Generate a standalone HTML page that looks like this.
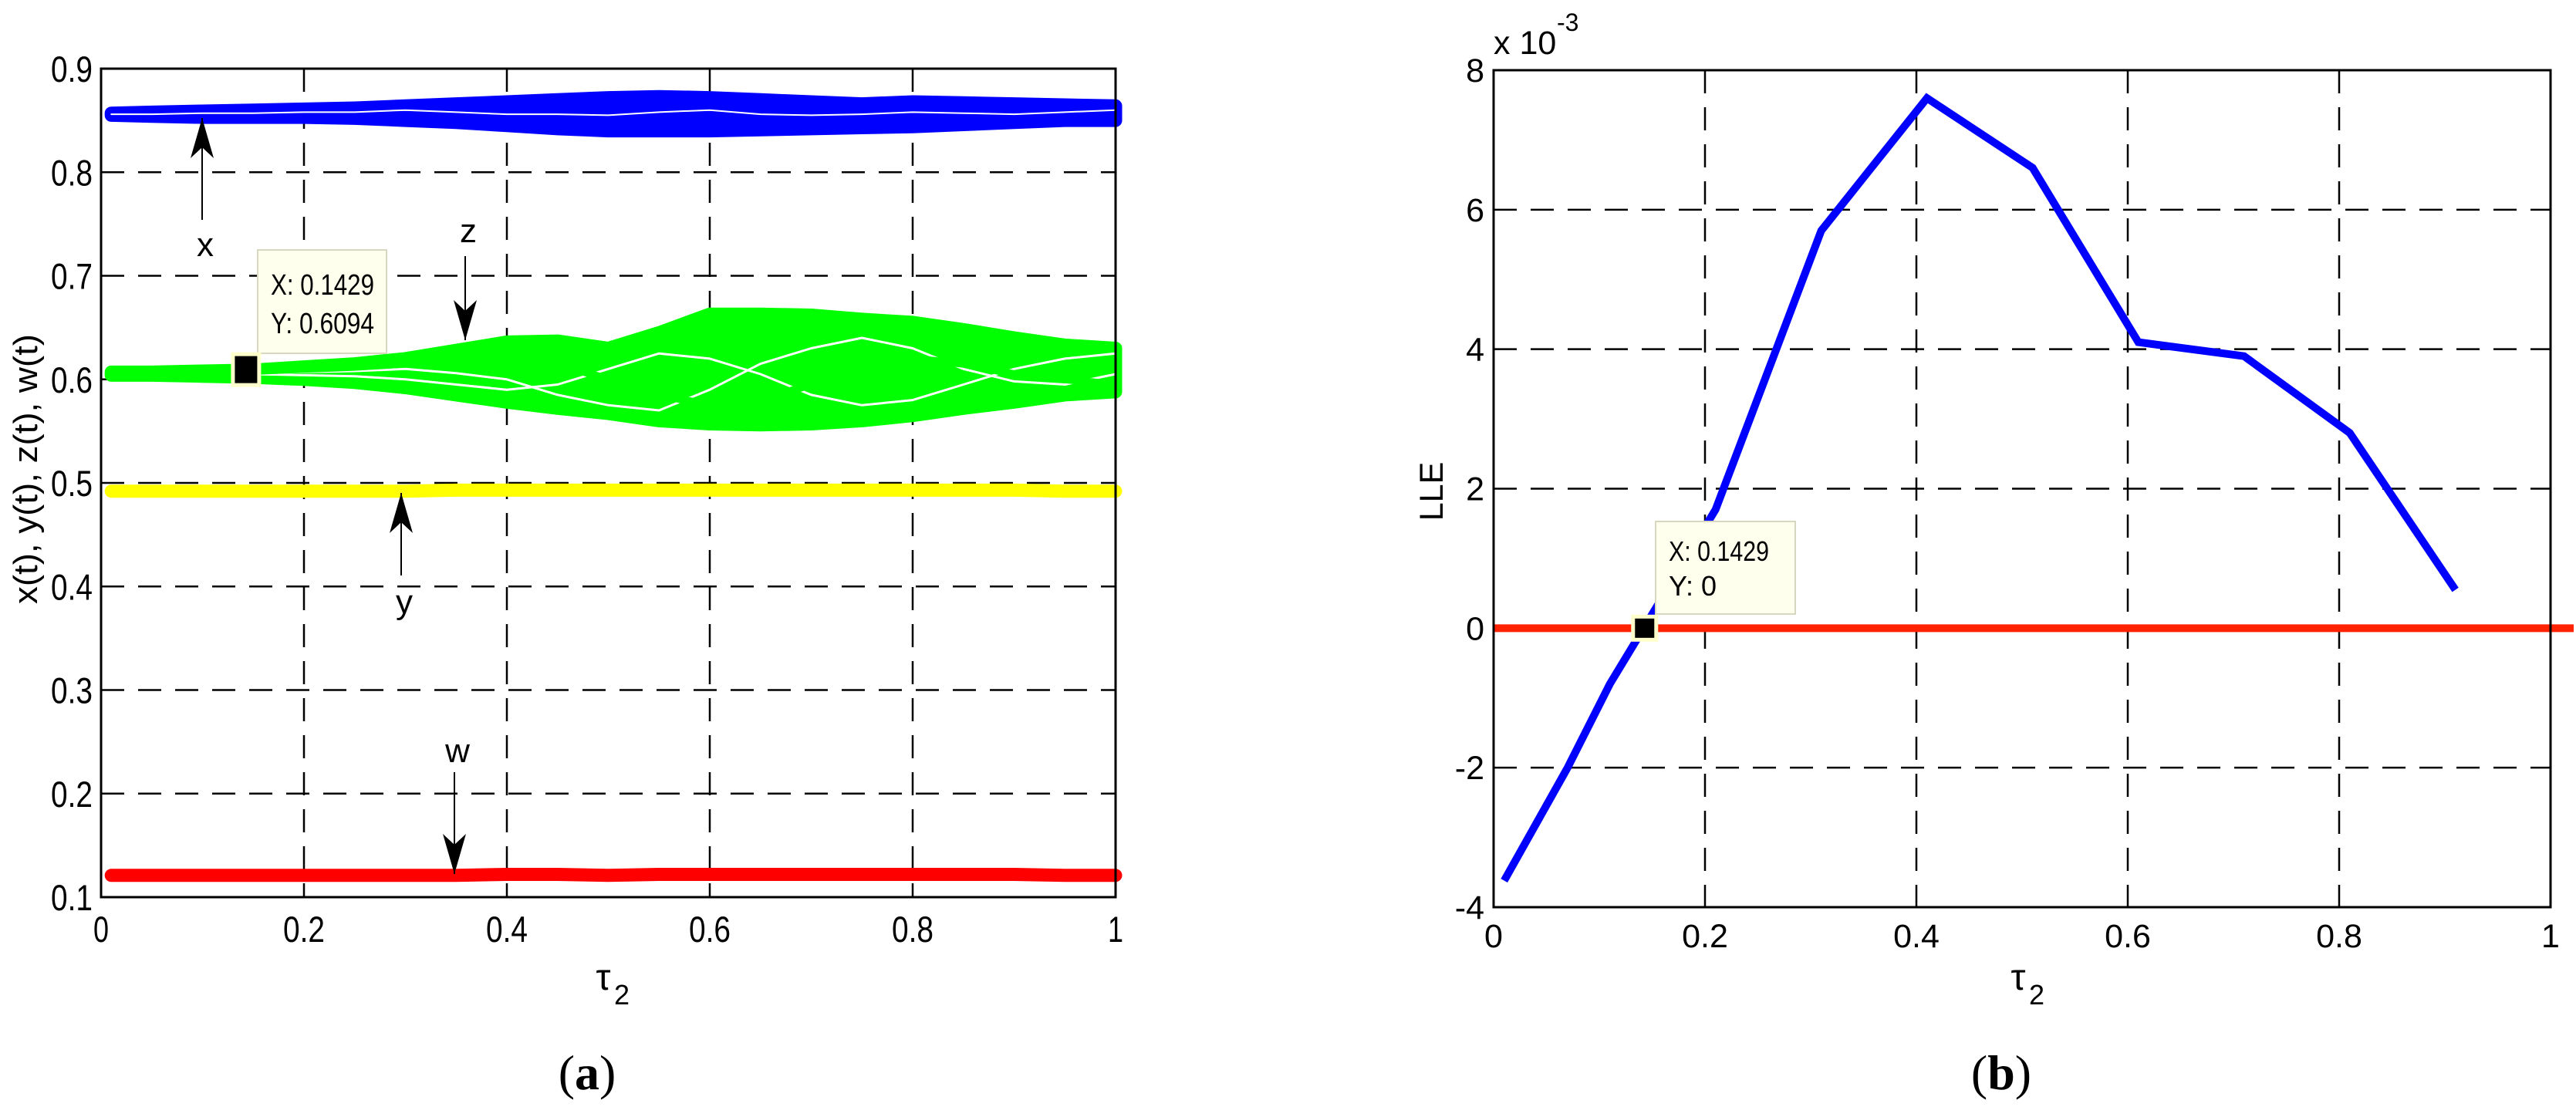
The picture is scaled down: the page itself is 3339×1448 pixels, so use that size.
<!DOCTYPE html>
<html><head><meta charset="utf-8"><style>
html,body{margin:0;padding:0;background:#fff;}
svg{display:block;font-family:"Liberation Sans",Arial,sans-serif;}
</style></head><body>
<svg id="fig" width="3339" height="1448" viewBox="0 0 3339 1448" xmlns="http://www.w3.org/2000/svg">
<rect width="3339" height="1448" fill="#fff"/>
<g id="pa"></g>
<g id="pb"></g>
</svg>
<script>
// ---------- Panel (a) data ----------
const tauA = [0.01,0.05,0.1,0.15,0.2,0.25,0.3,0.35,0.4,0.45,0.5,0.55,0.6,0.65,0.7,0.75,0.8,0.85,0.9,0.95,1.0];
const xTop  = [.857,.858,.859,.860,.861,.862,.864,.866,.868,.870,.872,.873,.872,.870,.868,.866,.868,.867,.866,.865,.864];
const xBot  = [.855,.854,.853,.853,.853,.852,.850,.848,.845,.842,.840,.840,.840,.841,.842,.843,.844,.846,.848,.850,.850];
const xMid1 = [.856,.856,.857,.857,.858,.858,.860,.858,.856,.856,.855,.858,.860,.856,.855,.856,.858,.857,.856,.858,.860];
const xMid2 = [.856,.855,.855,.856,.855,.856,.854,.853,.852,.850,.848,.850,.851,.852,.850,.852,.853,.853,.855,.856,.854];
const zTop  = [.607,.607,.608,.609,.612,.615,.620,.628,.636,.637,.630,.645,.663,.663,.662,.658,.655,.648,.640,.633,.630];
const zBot  = [.604,.604,.603,.602,.600,.597,.592,.585,.578,.572,.567,.560,.557,.556,.557,.560,.565,.572,.578,.585,.588];
const zMidA = [.606,.606,.607,.608,.610,.612,.615,.620,.622,.615,.600,.585,.575,.580,.595,.610,.620,.615,.605,.600,.595];
const zMidB = [.605,.605,.605,.605,.604,.603,.600,.595,.590,.595,.610,.625,.620,.605,.585,.575,.580,.595,.610,.620,.625];
const zMidC = [.606,.606,.606,.606,.607,.608,.610,.606,.600,.585,.575,.570,.590,.615,.630,.640,.630,.610,.598,.595,.605];
const yVals = [.492,.492,.492,.492,.492,.492,.492,.493,.493,.493,.493,.493,.493,.493,.493,.493,.493,.493,.493,.492,.492];
const wVals = [.121,.121,.121,.121,.121,.121,.121,.121,.122,.122,.121,.122,.122,.122,.122,.122,.122,.122,.122,.121,.121];
const yTicksA = [0.1,0.2,0.3,0.4,0.5,0.6,0.7,0.8,0.9];
const yTickLabelsA = ["0.1","0.2","0.3","0.4","0.5","0.6","0.7","0.8","0.9"];
const xTicks = [0,0.2,0.4,0.6,0.8,1];
const xTickLabels = ["0","0.2","0.4","0.6","0.8","1"];
const tipA = [0.1429, 0.6094];
// ---------- Panel (b) data ----------
const tauB = [0.01,0.07,0.11,0.21,0.31,0.41,0.51,0.61,0.71,0.81,0.91];
const lle  = [-3.62,-2.0,-0.8,1.7,5.7,7.6,6.6,4.1,3.9,2.8,0.55];
const yTicksB = [-4,-2,0,2,4,6,8];
const yTickLabelsB = ["-4","-2","0","2","4","6","8"];
const tipB = [0.1429, 0];

const NS="http://www.w3.org/2000/svg";
function mk(parent,tag,attrs,name){const e=document.createElementNS(NS,tag);for(const k in attrs)e.setAttribute(k,attrs[k]);


parent.appendChild(e);return e;}
function txt(parent,x,y,s,size,anchor,name,extra){const e=mk(parent,'text',Object.assign({x:x,y:y,'font-size':size,'text-anchor':anchor||'middle',fill:'#000'},extra||{}),name);e.textContent=s;return e;}
function arrow(g,x,y1,y2,name){
  mk(g,'line',{x1:x,y1:y1,x2:x,y2:y2,stroke:'#000','stroke-width':2},name+'-shaft');
  const d=y2<y1?1:-1;
  mk(g,'path',{d:`M${x} ${y2} L${x-15} ${y2+d*52} L${x} ${y2+d*38} L${x+15} ${y2+d*52} Z`,fill:'#000'},name+'-head');
}

// ---------- Panel A ----------
(function(){
const g=document.getElementById('pa');
const L=131,R=1446,T=89,B=1163;
const sx=v=>L+(R-L)*v, sy=v=>B-(B-T)*(v-0.1)/0.8;
xTicks.forEach((v,i)=>{ if(i>0&&i<xTicks.length-1) mk(g,'line',{x1:sx(v),y1:T,x2:sx(v),y2:B,stroke:'#000','stroke-width':2.5,'stroke-dasharray':'30 18'},'grid-x'); });
yTicksA.forEach((v,i)=>{ if(i>0&&i<yTicksA.length-1) mk(g,'line',{x1:L,y1:sy(v),x2:R,y2:sy(v),stroke:'#000','stroke-width':2.5,'stroke-dasharray':'30 18'},'grid-y'); });
function area(top,bot,color,name){
  const up=tauA.map((t,i)=>sx(t).toFixed(1)+','+sy(top[i]).toFixed(1));
  const dn=tauA.map((t,i)=>sx(t).toFixed(1)+','+sy(bot[i]).toFixed(1)).reverse();
  mk(g,'polygon',{points:up.concat(dn).join(' '),fill:color,stroke:color,'stroke-width':17,'stroke-linejoin':'round'},name);
}
function band(arr,color,name,w){const pts=tauA.map((t,i)=>sx(t).toFixed(1)+','+sy(arr[i]).toFixed(1)).join(' ');
 mk(g,'polyline',{points:pts,fill:'none',stroke:color,'stroke-width':w||17,'stroke-linejoin':'round','stroke-linecap':'round'},name);}
area(xTop,xBot,'#0000ff','x-series-band');
band(xMid1,'#ffffff','x-series-gap',2);
area(zTop,zBot,'#00ff00','z-series-band');
band(zMidA,'#ffffff','z-series-gap1',3);band(zMidB,'#ffffff','z-series-gap2',3);band(zMidC,'#ffffff','z-series-gap3',3);
band(zMidA,'#00ff00','z-series-branch1',10);
band(yVals,'#ffff00','y-series');band(wVals,'#ff0000','w-series');
mk(g,'rect',{x:L,y:T,width:R-L,height:B-T,fill:'none',stroke:'#000','stroke-width':3},'axes-frame-a');
yTicksA.forEach((v,i)=>txt(g,L-11,sy(v)+17,yTickLabelsA[i],47,'end','y-tick-label',{'textLength':54,'lengthAdjust':'spacingAndGlyphs'}));
xTicks.forEach((v,i)=>txt(g,sx(v),1221,xTickLabels[i],47,'middle','x-tick-label',{'textLength':xTickLabels[i].length>1?54:20,'lengthAdjust':'spacingAndGlyphs'}));
txt(g,33,608,'x(t), y(t), z(t), w(t)',44,'middle','y-axis-title',{transform:'rotate(-90 33 608)',dy:15,'textLength':350,'lengthAdjust':'spacingAndGlyphs'});
txt(g,782,1283,'τ',48,'middle','x-axis-title');
txt(g,796,1302,'2',36,'start','x-axis-title-subscript');
txt(g,761,1412,'',64,'middle','panel-label-a',{'font-family':'Liberation Serif, serif'}).innerHTML='(<tspan font-weight="bold">a</tspan>)';
arrow(g,262,285,153,'x-arrow'); txt(g,266,332,'x',44,'middle','x-annotation');
arrow(g,603,332,441,'z-arrow'); txt(g,607,314,'z',44,'middle','z-annotation');
arrow(g,520,746,639,'y-arrow'); txt(g,524,795,'y',44,'middle','y-annotation');
arrow(g,589,1001,1133,'w-arrow'); txt(g,593,988,'w',44,'middle','w-annotation');
mk(g,'rect',{x:334,y:324,width:167,height:134,fill:'#ffffee',stroke:'#d8d8c0','stroke-width':2},'datatip-a');
txt(g,351,382,'X: 0.1429',38,'start','datatip-a-x',{'textLength':134,'lengthAdjust':'spacingAndGlyphs'});
txt(g,351,432,'Y: 0.6094',38,'start','datatip-a-y',{'textLength':134,'lengthAdjust':'spacingAndGlyphs'});
mk(g,'rect',{x:sx(tipA[0])-17,y:sy(tipA[1])-20,width:34,height:40,fill:'#000',stroke:'#ffffcc','stroke-width':5},'datatip-a-marker');
})();

// ---------- Panel B ----------
(function(){
const g=document.getElementById('pb');
const L=1936,R=3306,T=91,B=1176;
const sx=v=>L+(R-L)*v, sy=v=>B-(B-T)*(v+4)/12;
xTicks.forEach((v,i)=>{ if(i>0&&i<xTicks.length-1) mk(g,'line',{x1:sx(v),y1:T,x2:sx(v),y2:B,stroke:'#000','stroke-width':2.5,'stroke-dasharray':'30 18'},'grid-x'); });
yTicksB.forEach((v,i)=>{ if(i>0&&i<yTicksB.length-1) mk(g,'line',{x1:L,y1:sy(v),x2:R,y2:sy(v),stroke:'#000','stroke-width':2.5,'stroke-dasharray':'30 18'},'grid-y'); });
mk(g,'line',{x1:L,y1:sy(0),x2:R+30,y2:sy(0),stroke:'#ff2200','stroke-width':10},'zero-line');
const pts=tauB.map((t,i)=>sx(t).toFixed(1)+','+sy(lle[i]).toFixed(1)).join(' ');
mk(g,'polyline',{points:pts,fill:'none',stroke:'#0000ff','stroke-width':10,'stroke-linejoin':'miter'},'lle-line');
mk(g,'rect',{x:L,y:T,width:R-L,height:B-T,fill:'none',stroke:'#000','stroke-width':3},'axes-frame-b');
yTicksB.forEach((v,i)=>txt(g,L-12,sy(v)+15,yTickLabelsB[i],43,'end','y-tick-label'));
xTicks.forEach((v,i)=>txt(g,sx(v),1228,xTickLabels[i],43,'middle','x-tick-label'));
txt(g,1936,70,'x 10',43,'start','y-scale-factor');
txt(g,2018,40,'-3',32,'start','y-scale-exponent');
txt(g,1855,637,'LLE',43,'middle','y-axis-title',{transform:'rotate(-90 1855 637)',dy:15});
txt(g,2616,1283,'τ',48,'middle','x-axis-title');
txt(g,2630,1302,'2',36,'start','x-axis-title-subscript');
txt(g,2594,1412,'',64,'middle','panel-label-b',{'font-family':'Liberation Serif, serif'}).innerHTML='(<tspan font-weight="bold">b</tspan>)';
mk(g,'rect',{x:2146,y:676,width:181,height:120,fill:'#ffffee',stroke:'#d8d8c0','stroke-width':2},'datatip-b');
txt(g,2163,727,'X: 0.1429',36,'start','datatip-b-x',{'textLength':130,'lengthAdjust':'spacingAndGlyphs'});
txt(g,2163,772,'Y: 0',36,'start','datatip-b-y');
mk(g,'rect',{x:sx(tipB[0])-15,y:sy(tipB[1])-15,width:30,height:30,fill:'#000',stroke:'#ffffcc','stroke-width':5},'datatip-b-marker');
})();
</script>
</body></html>
